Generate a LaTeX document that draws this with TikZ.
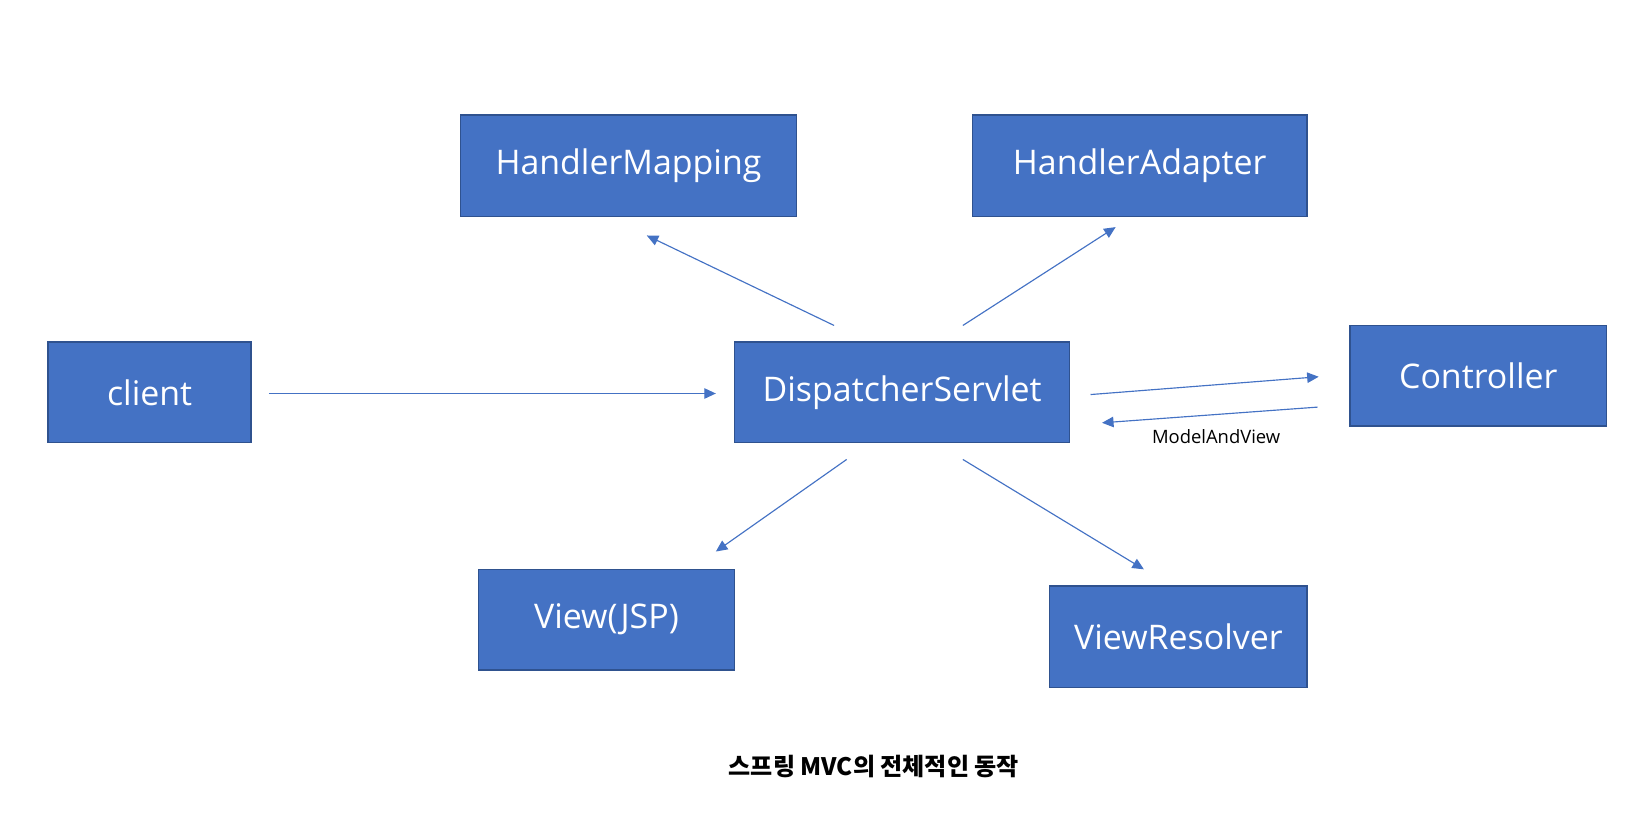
\documentclass[tikz,border=0pt]{standalone}
\usepackage{fontspec}
\setmainfont{Open Sans}
\newfontfamily\krfont{Noto Sans CJK KR}
\usetikzlibrary{arrows.meta}
\definecolor{boxfill}{HTML}{4472C4}
\definecolor{boxedge}{HTML}{2F528F}
\definecolor{arr}{HTML}{4472C4}
\begin{document}
\begin{tikzpicture}[x=1pt,y=-1pt,
  box/.style={draw=boxedge,line width=1.4pt,fill=boxfill,text=white,inner sep=0pt,
     font=\fontsize{32.4}{38}\selectfont},
  conn/.style={draw=arr,line width=1.1pt,-{Triangle[length=11pt,width=10pt]}},
  lbl/.style={font=\fontsize{17.6}{21}\selectfont,text=black}]
\useasboundingbox (0,0) rectangle (1568,778);
\node[box,minimum width=321pt,minimum height=97pt] (hm) at (600.5,158.5) {HandlerMapping};
\node[box,minimum width=320pt,minimum height=97pt] (ha) at (1089,158.5) {HandlerAdapter};
\node[box,minimum width=194pt,minimum height=96pt] (cl) at (143,375) {client};
\node[box,minimum width=320pt,minimum height=96pt] (ds) at (862,375) {DispatcherServlet};
\node[box,minimum width=245pt,minimum height=96pt] (ct) at (1412.5,359) {Controller};
\node[box,minimum width=245pt,minimum height=96pt] (vj) at (579.5,592) {View(JSP)};
\node[box,minimum width=246pt,minimum height=97pt] (vr) at (1126,608.5) {ViewResolver};
\coordinate (a1s) at (797,311); \coordinate (a1e) at (618,225);
\coordinate (a2s) at (920,311); \coordinate (a2e) at (1066,217);
\coordinate (a3s) at (257,376); \coordinate (a3e) at (684,376);
\coordinate (a4s) at (1042,377); \coordinate (a4e) at (1260,360);
\coordinate (a5s) at (1259,389); \coordinate (a5e) at (1053,404);
\coordinate (a6s) at (809,439); \coordinate (a6e) at (684,527);
\coordinate (a7s) at (920,439); \coordinate (a7e) at (1093,544);
\draw[conn] (a1s) -- (a1e);
\draw[conn] (a2s) -- (a2e);
\draw[conn] (a3s) -- (a3e);
\draw[conn] (a4s) -- (a4e);
\draw[conn] (a5s) -- (a5e);
\draw[conn] (a6s) -- (a6e);
\draw[conn] (a7s) -- (a7e);
\node[lbl] (mv) at (1162,417) {ModelAndView};
\node[font=\krfont\bfseries\fontsize{23}{27}\selectfont] (cap) at (835,732) {스프링 MVC의 전체적인 동작};
\end{tikzpicture}
\end{document}
